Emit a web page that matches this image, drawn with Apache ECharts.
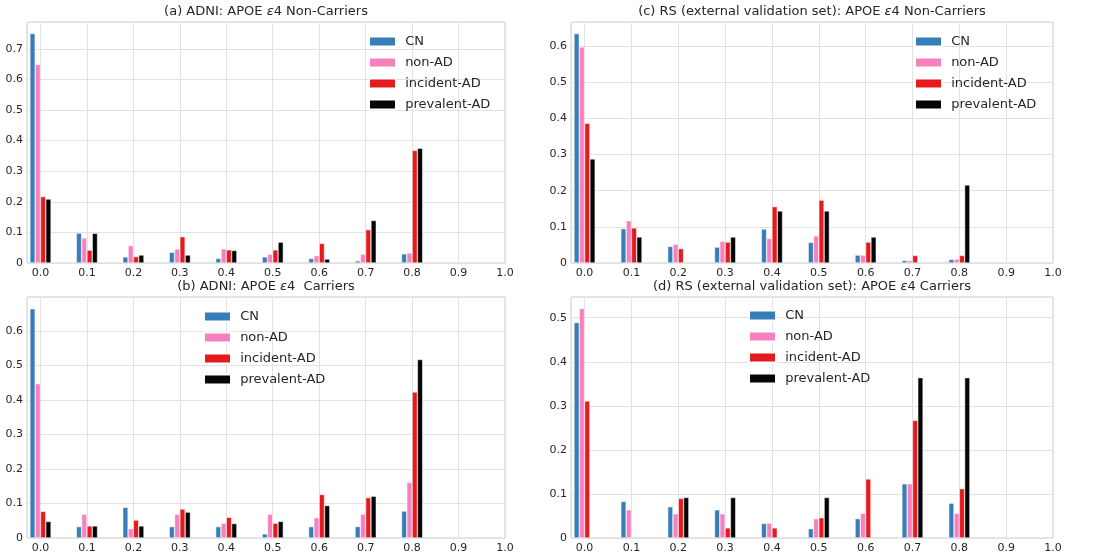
<!DOCTYPE html>
<html>
<head>
<meta charset="utf-8">
<script src="https://cdn.jsdelivr.net/npm/echarts@6/dist/echarts.min.js"></script>
<style>
  html, body { margin: 0; padding: 0; background: #fff; }
  #chart { width: 1104px; height: 557px; }
</style>
</head>
<body>
<div id="chart"></div>
<script>
// x positions of the bar groups
const bins = [0.0, 0.1, 0.2, 0.3, 0.4, 0.5, 0.6, 0.7, 0.8];
const groups = ['CN', 'non-AD', 'incident-AD', 'prevalent-AD'];
const colors = ['#377eb8', '#f781bf', '#e41a1c', '#050505'];

// (a) ADNI non-carriers
const aCN        = [0.750, 0.098, 0.020, 0.035, 0.015, 0.020, 0.015, 0.007, 0.030];
const aNonAD     = [0.649, 0.082, 0.057, 0.046, 0.046, 0.029, 0.024, 0.029, 0.033];
const aIncident  = [0.217, 0.042, 0.021, 0.086, 0.043, 0.043, 0.064, 0.109, 0.368];
const aPrevalent = [0.209, 0.097, 0.026, 0.026, 0.041, 0.068, 0.013, 0.139, 0.375];

// (c) RS non-carriers
const cCN        = [0.635, 0.095, 0.046, 0.044, 0.094, 0.057, 0.022, 0.007, 0.010];
const cNonAD     = [0.598, 0.117, 0.052, 0.060, 0.068, 0.075, 0.022, 0.007, 0.011];
const cIncident  = [0.387, 0.097, 0.040, 0.058, 0.156, 0.174, 0.058, 0.021, 0.021];
const cPrevalent = [0.288, 0.072, 0,     0.072, 0.144, 0.144, 0.072, 0,     0.216];

// (b) ADNI carriers
const bCN        = [0.664, 0.033, 0.089, 0.033, 0.033, 0.012, 0.033, 0.033, 0.078];
const bNonAD     = [0.447, 0.069, 0.027, 0.069, 0.043, 0.069, 0.059, 0.069, 0.161];
const bIncident  = [0.077, 0.035, 0.052, 0.084, 0.060, 0.043, 0.126, 0.117, 0.423];
const bPrevalent = [0.048, 0.035, 0.035, 0.075, 0.042, 0.048, 0.094, 0.121, 0.517];

// (d) RS carriers
const dCN        = [0.489, 0.083, 0.071, 0.064, 0.033, 0.021, 0.044, 0.123, 0.079];
const dNonAD     = [0.521, 0.064, 0.055, 0.055, 0.034, 0.044, 0.056, 0.123, 0.056];
const dIncident  = [0.311, 0,     0.090, 0.023, 0.023, 0.046, 0.134, 0.267, 0.112];
const dPrevalent = [0,     0,     0.092, 0.092, 0,     0.092, 0,     0.364, 0.364];

const font = 'DejaVu Sans';
const textColor = '#262626';

const panels = [
    { title: '(a) ADNI: APOE {e|ε}4 Non-Carriers', values: [aCN, aNonAD, aIncident, aPrevalent],
      ymax: 0.7875, grid: { left: 27, top: 22, width: 478, height: 241 }, legend: { left: 368, top: 35 } },
    { title: '(c) RS (external validation set): APOE {e|ε}4 Non-Carriers', values: [cCN, cNonAD, cIncident, cPrevalent],
      ymax: 0.667, grid: { left: 571, top: 22, width: 482, height: 241 }, legend: { left: 914, top: 35 } },
    { title: '(b) ADNI: APOE {e|ε}4  Carriers', values: [bCN, bNonAD, bIncident, bPrevalent],
      ymax: 0.698, grid: { left: 27, top: 297, width: 478, height: 241 }, legend: { left: 203, top: 310 } },
    { title: '(d) RS (external validation set): APOE {e|ε}4 Carriers', values: [dCN, dNonAD, dIncident, dPrevalent],
      ymax: 0.547, grid: { left: 571, top: 297, width: 482, height: 241 }, legend: { left: 748, top: 309 } }
];

function onTenth(v) {
    return Math.abs(v * 10 - Math.round(v * 10)) < 1e-6;
}

let option = {
    animation: false,
    backgroundColor: '#fff',
    title: [], legend: [], grid: [], xAxis: [], yAxis: [], series: []
};

panels.forEach(function (p, i) {
    option.grid.push(Object.assign({
        show: true, borderColor: '#cccccc', borderWidth: 1, backgroundColor: 'transparent'
    }, p.grid));

    option.title.push({
        text: p.title,
        left: p.grid.left + p.grid.width / 2,
        top: p.grid.top - 17,
        textAlign: 'center',
        padding: 0,
        textStyle: {
            fontFamily: font, fontSize: 13, fontWeight: 'normal', color: textColor,
            rich: { e: { fontFamily: font, fontSize: 13, fontStyle: 'italic', color: textColor } }
        }
    });

    option.legend.push({
        data: groups,
        orient: 'vertical',
        align: 'left',
        left: p.legend.left,
        top: p.legend.top,
        padding: 0,
        icon: 'rect',
        itemWidth: 27,
        itemHeight: 10,
        itemGap: 8,
        selectedMode: false,
        formatter: function (name) { return ' ' + name; },
        textStyle: { fontFamily: font, fontSize: 13, color: textColor }
    });

    option.xAxis.push({
        type: 'value', gridIndex: i,
        min: -0.029, max: 1.0, splitNumber: 10,
        axisLine: { show: false }, axisTick: { show: false },
        axisLabel: {
            fontFamily: font, fontSize: 11, color: textColor, margin: 5,
            formatter: function (v) { return (v < -0.001 || !onTenth(v)) ? '' : Math.abs(v).toFixed(1); }
        },
        splitLine: { lineStyle: { color: '#e2e2e2', width: 1 } }
    });

    option.yAxis.push({
        type: 'value', gridIndex: i,
        min: 0, max: p.ymax, interval: 0.1,
        axisLine: { show: false }, axisTick: { show: false },
        axisLabel: {
            fontFamily: font, fontSize: 11, color: textColor, margin: 4,
            formatter: function (v) { return v === 0 ? '0' : (onTenth(v) ? v.toFixed(1) : ''); }
        },
        splitLine: { lineStyle: { color: '#e2e2e2', width: 1 } }
    });

    groups.forEach(function (name, k) {
        option.series.push({
            type: 'bar', name: name,
            xAxisIndex: i, yAxisIndex: i,
            barWidth: 5.3, barGap: '0%',
            itemStyle: { color: colors[k], borderColor: '#fff', borderWidth: 0.5 },
            data: bins.map(function (b, j) { return [b, p.values[k][j] === 0 ? '-' : p.values[k][j]]; })
        });
    });
});

let myChart = echarts.init(document.getElementById('chart'));
myChart.setOption(option);
</script>
</body>
</html>
